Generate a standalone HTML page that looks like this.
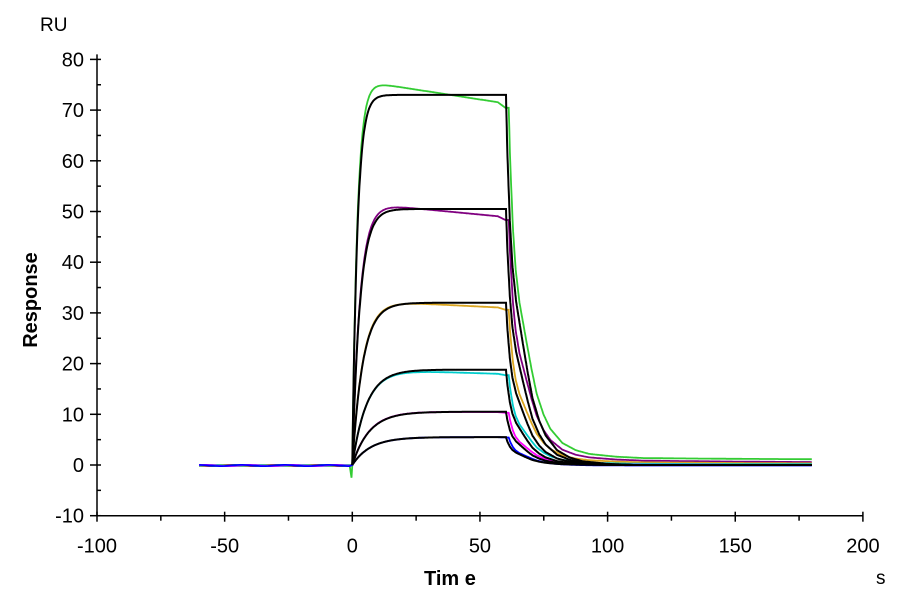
<!DOCTYPE html>
<html><head><meta charset="utf-8"><style>
html,body{margin:0;padding:0;background:#fff;}
svg{display:block;font-family:"Liberation Sans",Arial,sans-serif;}
</style></head><body>
<svg id="s" width="900" height="600" viewBox="0 0 900 600">
<rect width="900" height="600" fill="#fff"/>
<g id="axes" stroke="#000" stroke-width="1.5" fill="none"></g>
<g id="labels" font-size="20" fill="#000"></g>
<text x="40" y="31" font-size="19">RU</text>
<text transform="translate(37,300) rotate(-90)" text-anchor="middle" font-size="20" font-weight="bold">Response</text>
<text x="424" y="585" font-size="20" font-weight="bold">Tim e</text>
<text x="876" y="584" font-size="19">s</text>
<g id="curves" fill="none" stroke-width="2"></g>
</svg>
<script>
const X=t=>97+(t+100)*2.553, Y=v=>465-v*5.07;
const ns="http://www.w3.org/2000/svg";
const ax=document.getElementById('axes'), lb=document.getElementById('labels'), cv=document.getElementById('curves');
function el(p,tag,a){const e=document.createElementNS(ns,tag);for(const k in a)e.setAttribute(k,a[k]);p.appendChild(e);return e;}
el(ax,'line',{x1:97,y1:Y(80)-5,x2:97,y2:Y(-10)});
el(ax,'line',{x1:97,y1:Y(-10),x2:X(200),y2:Y(-10)});
for(let v=-10;v<=80;v+=5){const y=Y(v);if(v%10==0){el(ax,'line',{x1:90,y1:y,x2:101,y2:y});const t=el(lb,'text',{x:84,y:y+7,'text-anchor':'end'});t.textContent=v;}else el(ax,'line',{x1:97,y1:y,x2:101,y2:y});}
for(let t=-100;t<=200;t+=25){const x=X(t),y=Y(-10);if(t%50==0){el(ax,'line',{x1:x,y1:y-4,x2:x,y2:y+6});const e=el(lb,'text',{x:x,y:y+37,'text-anchor':'middle'});e.textContent=t;}else el(ax,'line',{x1:x,y1:y,x2:x,y2:y+5});}
const gp=[[0,1],[0.5,0.85],[1.5,0.66],[2.5,0.54],[4,0.44],[6.8,0.32],[8.5,0.25],[10.4,0.18],[13,0.12],[15.5,0.08],[20,0.04],[25,0.02],[30,0.01],[40,0.003],[50,0],[300,0]];
function g(tau){if(tau<=0)return 1;for(let i=1;i<gp.length;i++){if(tau<=gp[i][0]){const a=gp[i-1],b=gp[i];return a[1]+(b[1]-a[1])*(tau-a[0])/(b[0]-a[0]);}}return 0;}
const S=[
 {req:73,k:0.5,col:'#33cc33',rq:76,d:0.078,res:1.0,rr:0.8,sc:1},
 {req:50.5,k:0.33,col:'#800080',rq:51.8,d:0.048,res:0.4,rr:1.0,sc:1},
 {req:32,k:0.24,col:'#daa520',rq:32.5,d:0.025,res:0.2,rr:0.7,sc:1},
 {req:18.8,k:0.18,col:'#00cccc',rq:18.9,d:0.016,res:0.1,rr:0.3,sc:1},
 {req:10.5,k:0.15,col:'#ff00ff',rq:10.6,d:0.003,res:0,rr:0.1,sc:1},
 {req:5.5,k:0.14,col:'#0000ff',rq:5.5,d:0.0,res:-0.1,rr:0,sc:1}];
function path(pts){return pts.map((p,i)=>(i?'L':'M')+X(p[0]).toFixed(1)+' '+Y(p[1]).toFixed(1)).join('');}
S.forEach((s,i)=>{const pts=[];
 for(let t=-60;t<0;t+=1)pts.push([t,0.12*Math.sin(t*0.37+i)-0.1]);
 if(i==0){pts.push([-0.3,-2.5]);}
 pts.push([0,0]);
 let end=0;
 for(let t=0.25;t<=60;t+=0.25){let v=s.rq*(1-Math.exp(-s.k*t))-s.d*t;if(t>57)v-=s.req*0.012*(t-57)/3;pts.push([t,v]);end=v;}
 for(let t=60.25;t<=180;t+=0.25){const tau=(t-61.3)/(s.sc*1.05);const res=s.res+s.rr*Math.exp(-(t-60)/70);const gg=g(tau);pts.push([t,end*gg+res*(1-gg)]);}
 el(cv,'path',{d:path(pts),stroke:s.col,'stroke-width':1.8});
});
S.forEach(s=>{const pts=[[0,0]];
 for(let t=0.2;t<=60;t+=0.2)pts.push([t,s.req*(1-Math.exp(-s.k*t))]);
 const end=s.req*(1-Math.exp(-s.k*60));
 for(let t=60.2;t<=180;t+=0.1)pts.push([t,end*g((t-60.2)/s.sc)]);
 el(cv,'path',{d:path(pts),stroke:'#000','stroke-width':2});
});
</script>
</body></html>
